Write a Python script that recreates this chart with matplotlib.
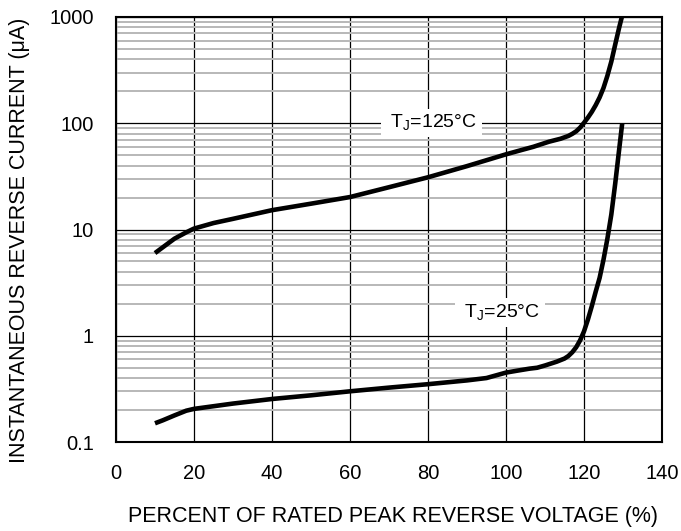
import numpy as np
import matplotlib
matplotlib.use("Agg")
import matplotlib.pyplot as plt
from matplotlib.ticker import FixedLocator, NullFormatter

plt.rcParams['font.family'] = ['Liberation Sans', 'DejaVu Sans']

# curves
v_125 = [10, 12, 15, 18, 20, 25, 30, 40, 50, 60, 70, 80, 90, 100, 104, 107,
         111, 114, 116, 117, 118, 119, 120, 121, 122, 123, 124, 125, 126, 127,
         128, 129, 129.7]
i_125 = [6.0, 6.8, 8.2, 9.4, 10.2, 11.5, 12.6, 15.2, 17.5, 20.2, 25, 31, 39.5,
         51, 56, 60, 67, 71.5, 76, 79.5, 84, 91, 101, 113, 128, 148, 175, 215,
         280, 380, 550, 790, 1000]

v_25 = [10, 12, 15, 18, 20, 30, 40, 50, 60, 70, 80, 90, 95, 100, 103, 106, 108,
        110, 113, 115, 116, 117, 118, 119, 120, 121, 122, 123, 124, 125, 126,
        127, 128, 129, 129.8]
i_25 = [0.15, 0.16, 0.178, 0.197, 0.205, 0.23, 0.254, 0.275, 0.30, 0.325, 0.35,
        0.38, 0.40, 0.45, 0.47, 0.49, 0.50, 0.525, 0.57, 0.61, 0.645, 0.70,
        0.78, 0.905, 1.1, 1.42, 1.9, 2.6, 3.5, 5.2, 8.2, 13.8, 27, 56, 100]

x_ticks = [0, 20, 40, 60, 80, 100, 120, 140]
y_ticks = [0.1, 1, 10, 100, 1000]
y_labels = ['0.1', '1', '10', '100', '1000']

fig = plt.figure(figsize=(6.81, 5.31), dpi=100)
ax = fig.add_axes([116 / 681, 1 - 442 / 531, 546 / 681, 425 / 531])

ax.set_yscale('log')
ax.set_xlim(0, 140)
ax.set_ylim(0.1, 1000)

ax.set_xticks(x_ticks)
ax.set_yticks(y_ticks)
ax.set_yticklabels(y_labels)
minors = [m * 10.0 ** e for e in range(-1, 3) for m in range(2, 10)]
ax.yaxis.set_minor_locator(FixedLocator(minors))
ax.yaxis.set_minor_formatter(NullFormatter())

ax.grid(True, which='minor', axis='y', color='#b8b8b8', linewidth=1.4)
ax.grid(True, which='major', axis='both', color='black', linewidth=0.9)
ax.set_axisbelow(True)
ax.tick_params(which='both', length=0, labelsize=14.5, pad=16)

for s in ax.spines.values():
    s.set_linewidth(1.5)

ax.plot(v_125, i_125, color='black', linewidth=3.3, solid_capstyle='butt',
        solid_joinstyle='round')
ax.plot(v_25, i_25, color='black', linewidth=3.3, solid_capstyle='butt',
        solid_joinstyle='round')

box = dict(facecolor='white', edgecolor='none', pad=3)
ax.text(80.8, 90, ' T$_\\mathregular{J}$=125°C ', fontsize=14,
        ha='center', va='baseline', bbox=box)
ax.text(98.5, 1.49, ' T$_\\mathregular{J}$=25°C ', fontsize=14,
        ha='center', va='baseline', bbox=box)

ax.set_xlabel('PERCENT OF RATED PEAK REVERSE VOLTAGE (%)', fontsize=15.5,
              va='center')
ax.xaxis.set_label_coords(0.507, -0.176)
ax.set_ylabel('INSTANTANEOUS REVERSE CURRENT (\u03bcA)', fontsize=15.5,
              va='center')
ax.yaxis.set_label_coords(-0.176, 0.475)

fig.savefig('out.png', dpi=100)
